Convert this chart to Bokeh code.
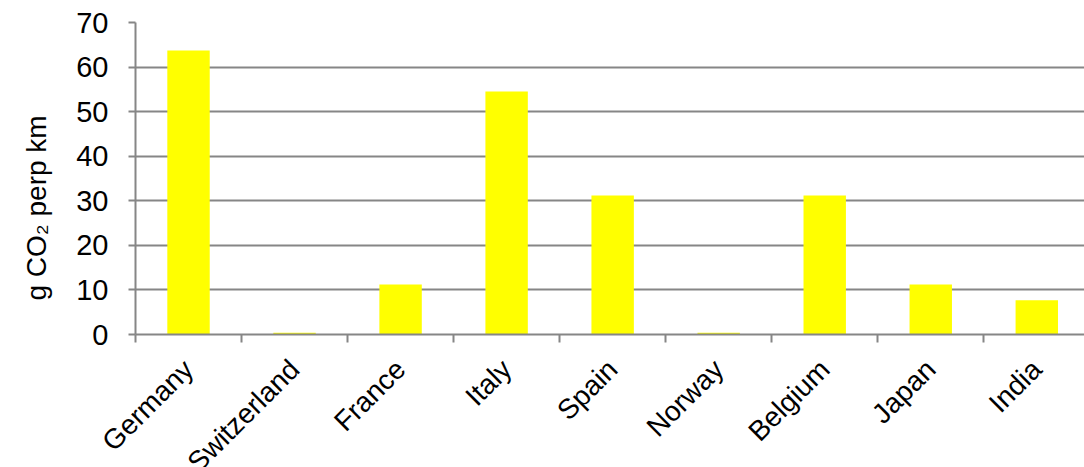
from math import pi
from bokeh.plotting import figure
from bokeh.models import ColumnDataSource, Range1d, FixedTicker, Title
from bokeh.embed import file_html
from bokeh.resources import INLINE

categories = ["Germany", "Switzerland", "France", "Italy", "Spain", "Norway", "Belgium", "Japan", "India"]
values = [63.7, 0.4, 11.2, 54.5, 31.2, 0.4, 31.2, 11.2, 7.7]
y_ticks = [0, 10, 20, 30, 40, 50, 60, 70]
y_label = "g CO\u2082 perp km"

n = len(categories)
centers = [i + 0.5 for i in range(n)]
bounds = list(range(n + 1))

src = ColumnDataSource(dict(x=centers, top=values, name=categories))

FONT = "Liberation Sans"
GRAY = "#868686"

p = figure(width=1084, height=467, frame_width=949, frame_height=312,
           output_backend="svg", toolbar_location=None,
           x_range=Range1d(0, n - 0.05), y_range=Range1d(0, 70),
           min_border_left=135, min_border_right=0, min_border_top=22, min_border_bottom=0)
p.outline_line_color = None
p.background_fill_color = "white"
p.border_fill_color = "white"

p.vbar(x="x", top="top", width=0.4, source=src, fill_color="#FFFF00", line_color=None)

# x axis: names at category centres, tick marks at category boundaries
xa = p.xaxis[0]
xa.ticker = FixedTicker(ticks=centers, minor_ticks=bounds)
xa.major_label_overrides = {c: name for c, name in zip(centers, categories)}
xa.major_label_orientation = pi / 4
xa.major_tick_out = 0
xa.major_tick_in = 0
xa.minor_tick_out = 8
xa.minor_tick_in = 0
xa.minor_tick_line_color = GRAY
xa.minor_tick_line_width = 2
xa.axis_line_color = GRAY
xa.axis_line_width = 2
xa.major_label_text_font = FONT
xa.major_label_text_font_size = "28px"
xa.major_label_text_color = "black"
xa.major_label_standoff = 22

# y axis
ya = p.yaxis[0]
ya.ticker = FixedTicker(ticks=y_ticks)
ya.minor_tick_line_color = None
ya.major_tick_out = 7
ya.major_tick_in = 0
ya.major_tick_line_color = GRAY
ya.major_tick_line_width = 2
ya.axis_line_color = GRAY
ya.axis_line_width = 2
ya.major_label_text_font = FONT
ya.major_label_text_font_size = "29px"
ya.major_label_text_color = "black"
ya.major_label_standoff = 20

p.xgrid.grid_line_color = None
p.ygrid.ticker = FixedTicker(ticks=y_ticks[1:])
p.ygrid.grid_line_color = GRAY
p.ygrid.grid_line_width = 2

p.add_layout(Title(text=y_label, align="left", vertical_align="top", offset=34, standoff=40,
                   text_font=FONT, text_font_size="28px", text_font_style="normal",
                   text_color="black"), "left")

open("out.html", "w").write(file_html(p, INLINE))
